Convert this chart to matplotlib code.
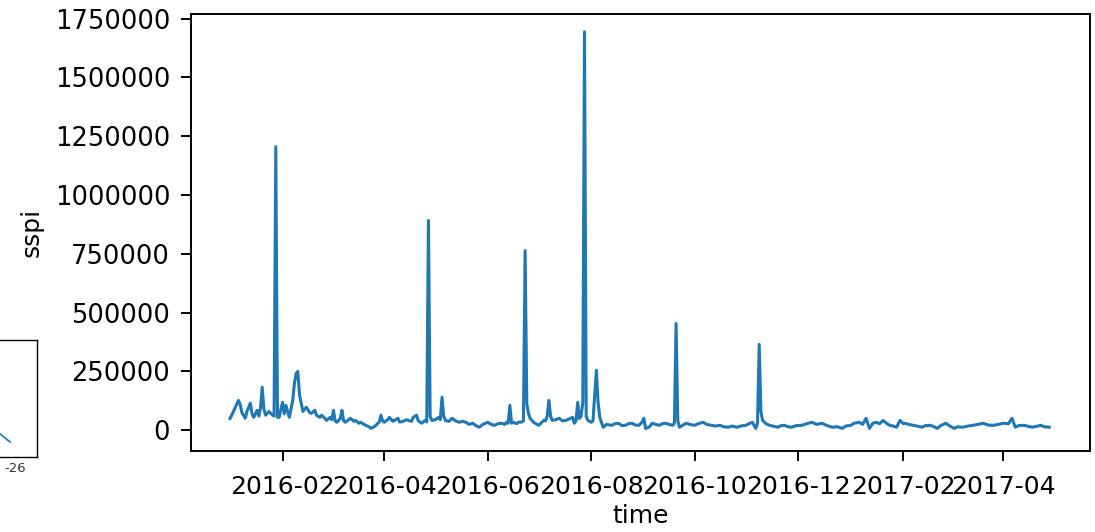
import numpy as np
import pandas as pd
import matplotlib
matplotlib.use("Agg")
from matplotlib import pyplot as plt
import matplotlib.dates as mdates

# day number counted from 2016-01-01, and the sspi value on that day
days = [0, 1, 3, 5, 6, 7, 9, 10, 12, 13, 14, 16, 17, 18, 19, 20, 21, 23, 24, 26,
        27, 28, 29, 30, 31, 32, 33, 35, 36, 37, 38, 39, 40, 41, 42, 43, 45, 47, 48, 50,
        51, 53, 54, 56, 57, 59, 60, 61, 62, 63, 65, 66, 67, 68, 70, 71, 73, 74, 76, 77,
        79, 80, 82, 83, 85, 86, 88, 89, 90, 91, 93, 94, 96, 97, 99, 100, 102, 104, 105, 107,
        108, 110, 111, 113, 115, 116, 117, 118, 119, 121, 123, 124, 125, 126, 127, 129, 131, 133, 135, 137,
        139, 141, 143, 145, 147, 149, 152, 154, 156, 158, 160, 162, 163, 164, 165, 166, 167, 169, 170, 172,
        173, 174, 175, 176, 177, 179, 181, 182, 184, 185, 186, 187, 188, 189, 190, 192, 194, 196, 198, 200,
        202, 203, 204, 205, 206, 207, 208, 209, 210, 211, 213, 214, 215, 216, 217, 218, 220, 222, 225, 227,
        229, 231, 233, 235, 237, 239, 241, 243, 244, 245, 247, 249, 251, 253, 255, 257, 259, 261, 262, 263,
        264, 265, 267, 269, 271, 274, 276, 279, 281, 284, 286, 289, 291, 294, 296, 299, 301, 304, 306, 308,
        310, 311, 312, 313, 314, 316, 318, 320, 323, 325, 327, 329, 331, 334, 337, 340, 343, 346, 349, 352,
        355, 358, 361, 363, 366, 368, 371, 373, 375, 377, 379, 381, 383, 385, 387, 389, 391, 393, 395, 397,
        398, 400, 403, 405, 408, 410, 413, 415, 417, 419, 422, 424, 427, 429, 432, 435, 438, 441, 444, 447,
        450, 453, 456, 459, 461, 463, 465, 468, 470, 473, 476, 478, 480, 483]

sspi = [50000, 64000, 95000, 127000, 110000, 76000, 51000, 80000, 115000, 70000,
        55000, 85000, 60000, 95000, 183000, 90000, 64000, 80000, 72000, 60000,
        1206000, 55000, 55000, 90000, 119000, 70000, 106000, 55000, 90000, 127000,
        200000, 242000, 250000, 150000, 115000, 80000, 98000, 75000, 72000, 85000,
        64000, 55000, 64000, 50000, 42000, 55000, 45000, 85000, 40000, 34000,
        50000, 85000, 40000, 34000, 45000, 51000, 38000, 42000, 30000, 34000,
        25000, 21000, 15000, 8000, 15000, 21000, 35000, 64000, 40000, 34000,
        45000, 55000, 38000, 42000, 51000, 35000, 38000, 45000, 42000, 38000,
        55000, 64000, 40000, 30000, 42000, 35000, 892000, 60000, 42000, 45000,
        55000, 45000, 140000, 60000, 42000, 38000, 51000, 40000, 34000, 38000,
        34000, 25000, 30000, 20000, 13000, 25000, 34000, 25000, 21000, 28000,
        30000, 25000, 34000, 30000, 106000, 30000, 34000, 28000, 34000, 35000,
        40000, 764000, 110000, 72000, 50000, 34000, 25000, 21000, 35000, 42000,
        40000, 60000, 127000, 60000, 42000, 45000, 51000, 40000, 42000, 48000,
        55000, 30000, 40000, 119000, 50000, 60000, 120000, 1694000, 60000, 42000,
        34000, 40000, 150000, 255000, 120000, 55000, 13000, 25000, 21000, 28000,
        30000, 20000, 21000, 28000, 30000, 22000, 21000, 35000, 51000, 8000,
        13000, 30000, 25000, 21000, 28000, 30000, 25000, 21000, 30000, 454000,
        40000, 13000, 22000, 30000, 25000, 21000, 28000, 34000, 25000, 21000,
        18000, 21000, 15000, 13000, 18000, 13000, 18000, 21000, 28000, 34000,
        8000, 30000, 365000, 80000, 42000, 28000, 21000, 18000, 13000, 20000,
        21000, 15000, 13000, 20000, 21000, 28000, 34000, 25000, 30000, 20000,
        13000, 15000, 8000, 18000, 21000, 30000, 34000, 25000, 51000, 8000,
        30000, 34000, 28000, 42000, 30000, 21000, 18000, 13000, 42000, 28000,
        30000, 25000, 21000, 18000, 13000, 20000, 21000, 15000, 8000, 20000,
        30000, 20000, 8000, 15000, 13000, 18000, 21000, 25000, 30000, 22000,
        21000, 25000, 30000, 28000, 51000, 13000, 20000, 21000, 18000, 13000,
        18000, 21000, 15000, 13000]

# fragment of a neighbouring plot that sticks in at the left edge
inset_x = [0.0, 1.0]
inset_y = [0.55, 0.3]

time = pd.Timestamp("2016-01-01") + pd.to_timedelta(days, unit="D")

plt.rcParams["font.family"] = "DejaVu Sans"
fig = plt.figure(figsize=(10.95, 5.32), dpi=100)
ax = fig.add_axes([0.1744, 0.1523, 0.821, 0.8214])

ax.plot(time, sspi, color="#1f77b4", linewidth=2.2)
ax.set_ylim(-88000, 1770000)
ax.set_xlim(pd.Timestamp("2015-12-09"), pd.Timestamp("2017-05-22"))
ax.set_yticks(np.arange(0, 1750001, 250000))
ax.ticklabel_format(axis="y", style="plain", useOffset=False)
ax.xaxis.set_major_locator(mdates.MonthLocator(bymonth=[2, 4, 6, 8, 10, 12]))
ax.xaxis.set_major_formatter(mdates.DateFormatter("%Y-%m"))
ax.tick_params(labelsize=18, length=7, width=1.4, pad=8)
ax.tick_params(axis="x", pad=10)
ax.tick_params(axis="y", labelsize=18.5)
ax.set_xlabel("time", fontsize=18, labelpad=4)
ax.set_ylabel("sspi", fontsize=18, labelpad=8)
for s in ax.spines.values():
    s.set_linewidth(1.4)

# the cut off plot on the left
axl = fig.add_axes([-0.1, 0.141, 0.134, 0.22])
axl.plot(inset_x, inset_y, color="#1f77b4", linewidth=1.2)
axl.set_xlim(-7.0, 2.8)
axl.set_ylim(-0.01, 2.43)
axl.set_xticks([])
axl.set_yticks([])
for s in axl.spines.values():
    s.set_linewidth(1.0)
fig.text(0.004, 0.112, "-26", fontsize=9.5, color="#333333")

fig.savefig("out.png", dpi=100)
